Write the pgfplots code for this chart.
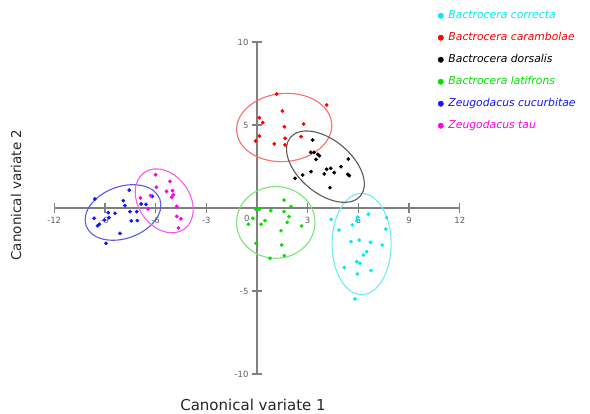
\documentclass[border=0pt]{standalone}
\usepackage{pgfplots}
\pgfplotsset{compat=1.18}
\usepackage{fontspec}
\setmainfont{DejaVu Sans}
\definecolor{cCor}{RGB}{0,235,245}
\definecolor{cCar}{RGB}{255,0,0}
\definecolor{cDor}{RGB}{0,0,0}
\definecolor{cLat}{RGB}{0,225,0}
\definecolor{cCuc}{RGB}{20,20,255}
\definecolor{cTau}{RGB}{255,0,230}
\definecolor{eCor}{RGB}{110,235,245}
\definecolor{eCar}{RGB}{250,110,110}
\definecolor{eDor}{RGB}{90,90,90}
\definecolor{eLat}{RGB}{120,230,120}
\definecolor{eCuc}{RGB}{90,90,230}
\definecolor{eTau}{RGB}{245,90,235}
\definecolor{axgray}{RGB}{128,128,128}
\definecolor{tickgray}{RGB}{95,95,95}
\pgfplotsset{
  grp/.style={only marks, mark=*, color=#1, mark size=1.7pt, mark options={draw=#1, fill=#1},
    legend image code/.code={\draw[##1, mark size=2.7pt, mark repeat=2, mark phase=2] plot coordinates {(0pt,0pt) (4pt,0pt) (8pt,0pt)};}},
}
\begin{document}
\begin{tikzpicture}[x=1pt,y=1pt]
\path[use as bounding box] (0,0) rectangle (590,414);
\begin{axis}[at={(54.2pt,40pt)}, anchor=south west, scale only axis,
  width=405.6pt, height=332pt,
  xmin=-12, xmax=12, ymin=-10, ymax=10, enlargelimits=false,
  axis lines=middle,
  axis line style={-, draw=axgray, line width=2.4pt},
  xtick={-12,-9,-6,-3,3,6,9,12},
  xticklabels={-12,-9,-6,-3,3,6,9,12},
  ytick={-10,-5,5,10},
  yticklabels={-10,-5,5,10},
  tick align=center, major tick length=10pt,
  tick style={draw=axgray, line width=1.2pt},
  ticklabel style={font=\fontsize{8.5}{9}\selectfont, text=tickgray},
  xticklabel style={yshift=-1pt},
  clip=false,
  legend style={at={(axis description cs:0.946,1.094)}, anchor=north west,
    draw=none, fill=none, inner sep=0pt, row sep=12.5pt,
    font=\fontsize{10.8}{11}\selectfont\itshape,
    nodes={inner xsep=5pt, inner ysep=0pt, text height=7.5pt, text depth=2pt}},
  legend cell align=left,
]
\draw[eCor, line width=1.1pt, rotate around={0:(axis cs:6.19,-2.17)}] (axis cs:6.19,-2.17) ellipse [x radius=1.75, y radius=3.05];
\draw[eCar, line width=1.1pt, rotate around={5:(axis cs:1.61,4.85)}] (axis cs:1.61,4.85) ellipse [x radius=2.82, y radius=2.05];
\draw[eDor, line width=1.1pt, rotate around={-40:(axis cs:4.05,2.49)}] (axis cs:4.05,2.49) ellipse [x radius=2.7, y radius=1.6];
\draw[eLat, line width=1.1pt] (axis cs:1.11,-0.87) ellipse [x radius=2.32, y radius=2.16];
\draw[eCuc, line width=1.1pt, rotate around={20:(axis cs:-7.93,-0.27)}] (axis cs:-7.93,-0.27) ellipse [x radius=2.32, y radius=1.56];
\draw[eTau, line width=1.1pt, rotate around={-55:(axis cs:-5.49,0.43)}] (axis cs:-5.49,0.43) ellipse [x radius=2.05, y radius=1.55];
\node[font=\fontsize{8.5}{9}\selectfont, text=tickgray] at (axis cs:-0.6,-0.62) {0};
\addplot[grp=cCor] coordinates {(4.38,-0.68) (5.90,-0.76) (5.95,-0.55) (5.64,-1.02) (6.59,-0.38) (7.67,-0.58) (4.85,-1.33) (7.62,-1.27) (5.56,-2.03) (6.05,-1.93) (6.72,-2.07) (7.41,-2.23) (6.49,-2.63) (6.29,-2.83) (5.90,-3.23) (6.09,-3.33) (5.17,-3.59) (6.75,-3.77) (5.94,-3.98) (5.80,-5.48)};
\addlegendentry{\textcolor{cCor}{Bactrocera correcta}}
\addplot[grp=cCar] coordinates {(1.16,6.87) (4.12,6.20) (1.50,5.84) (0.14,5.44) (0.34,5.14) (1.62,4.90) (2.76,5.06) (0.14,4.34) (-0.08,4.04) (1.02,3.86) (1.66,4.20) (1.66,3.80) (2.60,4.30)};
\addlegendentry{\textcolor{cCar}{Bactrocera carambolae}}
\addplot[grp=cDor] coordinates {(3.29,4.10) (3.18,3.35) (3.37,3.35) (3.59,3.23) (3.69,3.15) (3.49,2.93) (5.40,2.95) (2.25,1.79) (2.70,1.99) (3.20,2.19) (3.98,2.05) (4.12,2.33) (4.36,2.39) (4.57,2.13) (4.97,2.49) (5.37,2.03) (5.46,1.95) (4.32,1.22)};
\addlegendentry{\textcolor{cDor}{Bactrocera dorsalis}}
\addplot[grp=cLat] coordinates {(1.60,0.48) (2.01,0.08) (-0.06,-0.08) (0.14,-0.08) (0.81,-0.16) (1.60,-0.22) (1.89,-0.52) (-0.25,-0.62) (0.47,-0.76) (1.79,-0.86) (-0.51,-0.98) (0.24,-0.98) (2.64,-1.08) (1.42,-1.37) (-0.06,-2.13) (1.46,-2.23) (0.77,-3.03) (1.62,-2.87)};
\addlegendentry{\textcolor{cLat}{Bactrocera latifrons}}
\addplot[grp=cCuc] coordinates {(-9.59,0.54) (-7.56,1.08) (-7.91,0.44) (-7.81,0.14) (-7.51,-0.22) (-7.12,-0.22) (-6.86,0.24) (-6.57,0.22) (-8.80,-0.28) (-8.40,-0.32) (-9.64,-0.62) (-8.76,-0.58) (-9.03,-0.72) (-9.33,-0.98) (-9.43,-1.07) (-7.44,-0.78) (-7.08,-0.76) (-8.11,-1.53) (-8.93,-2.13) (-6.2,0.7)};
\addlegendentry{\textcolor{cCuc}{Zeugodacus cucurbitae}}
\addplot[grp=cTau] coordinates {(-6.0,2.0) (-5.15,1.6) (-5.95,1.25) (-5.35,1.0) (-5.0,1.05) (-4.95,0.8) (-5.05,0.65) (-6.9,0.6) (-6.3,0.75) (-4.75,0.1) (-4.75,-0.5) (-4.5,-0.65) (-4.65,-1.2) (-6.45,-0.05)};
\addlegendentry{\textcolor{cTau}{Zeugodacus tau}}
\end{axis}
\node[font=\fontsize{15}{16}\selectfont, text=black!85] at (253,9) {Canonical variate 1};
\node[font=\fontsize{13.5}{15}\selectfont, text=black!85, rotate=90] at (16,219) {Canonical variate 2};
\end{tikzpicture}
\end{document}
